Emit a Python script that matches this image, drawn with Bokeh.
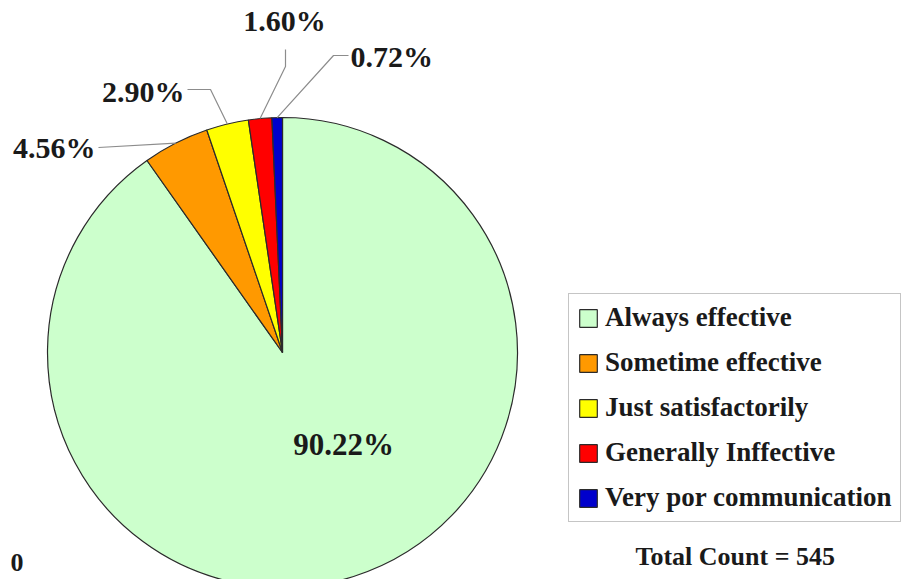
import numpy as np
from bokeh.plotting import figure
from bokeh.models import ColumnDataSource, Range1d, Legend, LegendItem
from bokeh.core.properties import value
from bokeh.embed import file_html
from bokeh.resources import INLINE

# ---------------- data ----------------
categories = ["Always effective", "Sometime effective", "Just satisfactorily",
              "Generally Inffective", "Very por communication"]
percent = [90.22, 4.56, 2.90, 1.60, 0.72]
pct_labels = ["90.22%", "4.56%", "2.90%", "1.60%", "0.72%"]
colors = ["#CCFFCC", "#FF9900", "#FFFF00", "#FF0000", "#0000CC"]
footer_left = "0"
footer_right = "Total Count = 545"

# ---------------- layout ----------------
W, H = 910, 579
def sx(x):  # picture x -> data x
    return x
def sy(y):  # picture y -> data y
    return H - y

cx, cy, R = sx(282), sy(352), 235
FONT = value("Liberation Serif")

frac = np.array(percent) / sum(percent)
cum = np.cumsum(frac)
prev = np.concatenate([[0.0], cum[:-1]])
start = np.pi / 2 - cum * 2 * np.pi
end = np.pi / 2 - prev * 2 * np.pi
mid = (start + end) / 2

src = ColumnDataSource(dict(start=start, end=end, color=colors, label=categories))

p = figure(width=W, height=H, output_backend="svg", toolbar_location=None,
           x_range=Range1d(0, W), y_range=Range1d(0, H), min_border=0)
p.axis.visible = False
p.grid.visible = False
p.outline_line_color = None
p.background_fill_color = "white"

wr = p.wedge(x=cx, y=cy, radius=R, start_angle="start", end_angle="end",
             fill_color="color", line_color="#2b2b2b", line_width=1.2, source=src)

# leader lines: label text layout (picture px) and elbow points
label_layout = {
    1: dict(x=95, y=147, align="right", base="middle", path=[(98, 147)]),
    2: dict(x=184, y=91, align="right", base="middle", path=[(187, 89), (210, 89)]),
    3: dict(x=284, y=36, align="center", base="bottom", path=[(285, 49), (285, 66)]),
    4: dict(x=350, y=56, align="left", base="middle", path=[(348, 55), (333, 55)]),
}
xs, ys = [], []
for i, lay in label_layout.items():
    ax = cx + R * np.cos(mid[i])
    ay = cy + R * np.sin(mid[i])
    xs.append([sx(px) for px, _ in lay["path"]] + [ax])
    ys.append([sy(py) for _, py in lay["path"]] + [ay])
p.multi_line(xs=xs, ys=ys, line_color="#8c8c8c", line_width=1.2)

for i, lay in label_layout.items():
    p.text(x=[sx(lay["x"])], y=[sy(lay["y"])], text=[pct_labels[i]], text_font=FONT,
           text_font_style="bold", text_font_size="30px", text_align=lay["align"],
           text_baseline=lay["base"], text_color="#1a1a1a")

# big slice label
p.text(x=[sx(343)], y=[sy(444)], text=[pct_labels[0]], text_font=FONT,
       text_font_style="bold", text_font_size="31px", text_align="center",
       text_baseline="middle", text_color="#1a1a1a")

# footer texts
p.text(x=[sx(10)], y=[sy(570)], text=[footer_left], text_font=FONT,
       text_font_style="bold", text_font_size="26px", text_align="left",
       text_baseline="bottom", text_color="#1a1a1a")
p.text(x=[sx(635)], y=[sy(570)], text=[footer_right], text_font=FONT,
       text_font_style="bold", text_font_size="26px", text_align="left",
       text_baseline="bottom", text_color="#1a1a1a")

legend = Legend(items=[LegendItem(label=categories[i], renderers=[wr], index=i)
                       for i in range(len(categories))],
                location=(sx(568), sy(522)),
                glyph_width=22, glyph_height=22, label_height=30,
                label_standoff=6, spacing=14, padding=8,
                label_text_font="Liberation Serif", label_text_font_style="bold",
                label_text_font_size="27px", label_text_color="#1a1a1a",
                border_line_color="#8c8c8c", border_line_width=1.2,
                background_fill_color="white", background_fill_alpha=1)
p.add_layout(legend, "center")

open("out.html", "w").write(file_html(p, INLINE))
